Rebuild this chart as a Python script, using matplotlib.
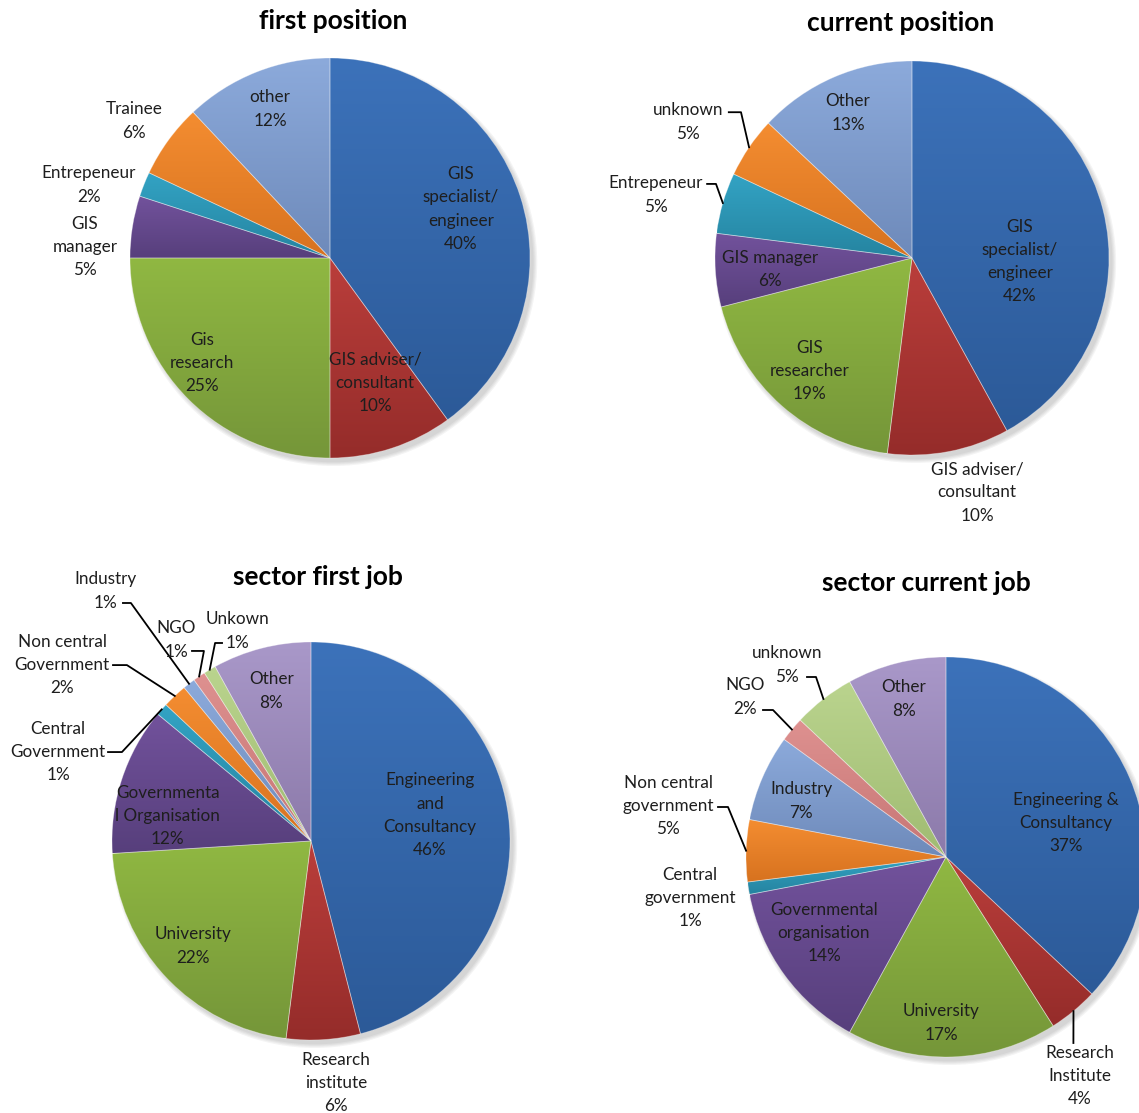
import numpy as np
import matplotlib.pyplot as plt
from matplotlib.colors import LinearSegmentedColormap
from matplotlib.patches import Circle

plt.rcParams['font.family'] = ['Lato', 'DejaVu Sans']

# ---- data (percentages as printed on the chart) ----
first_labels = ['GIS\nspecialist/\nengineer', 'GIS adviser/\nconsultant', 'Gis\nresearch',
                'GIS\nmanager', 'Entrepeneur', 'Trainee', 'other']
first_values = [40, 10, 25, 5, 2, 6, 12]

current_labels = ['GIS\nspecialist/\nengineer', 'GIS adviser/\nconsultant', 'GIS\nresearcher',
                  'GIS manager', 'Entrepeneur', 'unknown', 'Other']
current_values = [42, 10, 19, 6, 5, 5, 13]

sector_first_labels = ['Engineering\nand\nConsultancy', 'Research\ninstitute', 'University',
                       'Governmenta\nl Organisation', 'Central\nGovernment', 'Non central\nGovernment',
                       'Industry', 'NGO', 'Unkown', 'Other']
sector_first_values = [46, 6, 22, 12, 1, 2, 1, 1, 1, 8]

sector_current_labels = ['Engineering &\nConsultancy', 'Research\nInstitute', 'University',
                         'Governmental\norganisation', 'Central\ngovernment', 'Non central\ngovernment',
                         'Industry', 'NGO', 'unknown', 'Other']
sector_current_values = [37, 4, 17, 14, 1, 5, 7, 2, 5, 8]

# excel-ish gradient colours (top, bottom)
palette = [('#3c72ba', '#2c5a98'), ('#ba3e3b', '#952c2a'), ('#90b842', '#759639'),
           ('#72529c', '#573f7c'), ('#33a3c4', '#2584a0'), ('#f48d31', '#d7721f'),
           ('#8caadb', '#6e8aba'), ('#de9190', '#c67574'), ('#bad48e', '#a0bb72'),
           ('#a998c9', '#8c7aaa')]

W, H = 1139, 1113

# label centres, in units of the radius relative to the pie centre
first_lpos = [(0.655, 0.245), (0.225, -0.625), (-0.64, -0.525), (-1.225, 0.055),
              (-1.205, 0.365), (-0.98, 0.685), (-0.30, 0.745)]
current_lpos = [(0.548, -0.018), (0.33, -1.19), (-0.518, -0.574), (-0.72, -0.06),
                (-1.30, 0.32), (-1.137, 0.69), (-0.325, 0.736)]
sector_first_lpos = [(0.598, 0.13), (0.126, -1.216), (-0.593, -0.528), (-0.72, 0.126),
                     (-1.27, 0.447), (-1.25, 0.884), (-1.035, 1.256), (-0.678, 1.01),
                     (-0.367, 1.055), (-0.20, 0.754)]
sector_current_lpos = [(0.60, 0.17), (0.67, -1.095), (-0.025, -0.83), (-0.61, -0.38),
                       (-1.28, -0.205), (-1.39, 0.255), (-0.725, 0.28), (-1.005, 0.80),
                       (-0.795, 0.96), (-0.21, 0.79)]

# leader lines: slice index -> points on the label side (end is on the slice edge)
current_leaders = {4: [(-1.04, 0.376), (-0.995, 0.376)], 5: [(-0.93, 0.74), (-0.868, 0.74)]}
sector_first_leaders = {4: [(-1.02, 0.447), (-0.95, 0.447)], 5: [(-0.995, 0.884), (-0.925, 0.884)],
                        6: [(-0.945, 1.196), (-0.905, 1.196)], 7: [(-0.598, 0.955), (-0.538, 0.955)],
                        8: [(-0.447, 0.995), (-0.482, 0.995)]}
sector_current_leaders = {1: [(0.637, -0.93)], 5: [(-1.14, 0.25), (-1.09, 0.25)],
                          7: [(-0.915, 0.735), (-0.865, 0.735)], 8: [(-0.695, 0.90), (-0.65, 0.90)]}

fig = plt.figure(figsize=(W / 100, H / 100), dpi=100)


def draw_pie(cx, cy, r, values, labels, lpos, leaders, title, tx, ty):
    ax = fig.add_axes([(cx - r) / W, 1 - (cy + r) / H, 2 * r / W, 2 * r / H])
    ax.axis('off')
    # soft shadow, bottom right
    for k in range(4):
        ax.add_patch(Circle((0.018, -0.022), 1.0 + 0.006 * (3 - k), color='#444444',
                            alpha=0.06, lw=0, zorder=1, clip_on=False))
    wedges, _ = ax.pie(values, startangle=90, counterclock=False, radius=1)
    for i, w in enumerate(wedges):
        top, bot = palette[i]
        w.set_facecolor('none')
        w.set_edgecolor((1, 1, 1, 0.35))
        w.set_linewidth(0.6)
        w.set_zorder(3)
        w.set_clip_on(False)
        ext = w.get_path().get_extents()
        cm = LinearSegmentedColormap.from_list('g', [bot, top])
        grad = np.linspace(0, 1, 256).reshape(-1, 1)
        im = ax.imshow(grad, extent=(ext.x0, ext.x1, ext.y0, ext.y1), origin='lower',
                       cmap=cm, vmin=0, vmax=1, aspect='auto', zorder=2)
        im.set_clip_path(w)
    ax.set_xlim(-1, 1)
    ax.set_ylim(-1, 1)

    for i, (lab, v) in enumerate(zip(labels, values)):
        x, y = lpos[i]
        ax.text(x, y, f'{lab}\n{v}%', ha='center', va='center', fontsize=12.3,
                linespacing=1.55, color='#1e1e1e', zorder=5, clip_on=False)
        if i in leaders:
            w = wedges[i]
            mid = np.deg2rad((w.theta1 + w.theta2) / 2)
            pts = leaders[i] + [(np.cos(mid), np.sin(mid))]
            xs, ys = zip(*pts)
            ax.plot(xs, ys, color='black', lw=1.3, zorder=5, clip_on=False)

    fig.text(tx / W, 1 - ty / H, title, ha='center', va='center', fontsize=19,
             fontweight='bold', color='black')


draw_pie(330, 258, 200, first_values, first_labels, first_lpos, {},
         'first position', 333, 21)
draw_pie(912, 258, 197, current_values, current_labels, current_lpos, current_leaders,
         'current position', 901, 23)
draw_pie(311, 841, 199, sector_first_values, sector_first_labels, sector_first_lpos,
         sector_first_leaders, 'sector first job', 318, 577)
draw_pie(946, 857, 200, sector_current_values, sector_current_labels, sector_current_lpos,
         sector_current_leaders, 'sector current job', 926, 583)

plt.savefig('out.png', dpi=100)
